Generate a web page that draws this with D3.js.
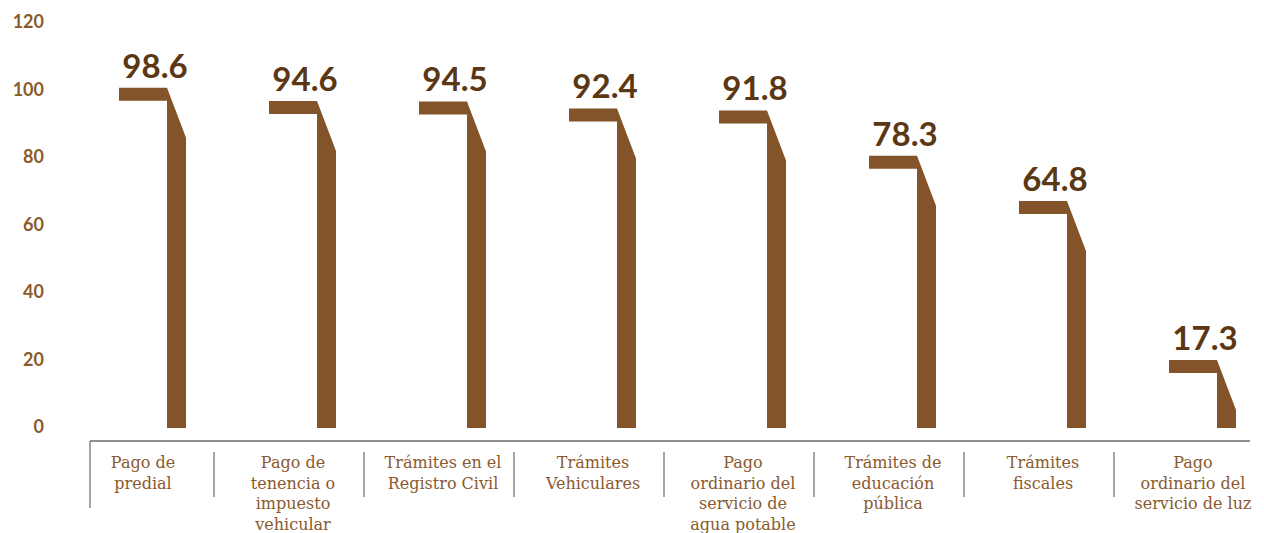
<!DOCTYPE html>
<html>
<head>
<meta charset="utf-8">
<script src="https://cdn.jsdelivr.net/npm/d3@7/dist/d3.min.js"></script>
<style>
  body { margin: 0; background: #fff; }
</style>
</head>
<body>
<div id="container"></div>
<script>
let w = 1264;
let h = 533;

// data
let categories = [
  "Pago de predial",
  "Pago de tenencia o impuesto vehicular",
  "Trámites en el Registro Civil",
  "Trámites Vehiculares",
  "Pago ordinario del servicio de agua potable",
  "Trámites de educación pública",
  "Trámites fiscales",
  "Pago ordinario del servicio de luz"
];
let values = [98.6, 94.6, 94.5, 92.4, 91.8, 78.3, 64.8, 17.3];
let categoryLines = [
  ["Pago de", "predial"],
  ["Pago de", "tenencia o", "impuesto", "vehicular"],
  ["Trámites en el", "Registro Civil"],
  ["Trámites", "Vehiculares"],
  ["Pago", "ordinario del", "servicio de", "agua potable"],
  ["Trámites de", "educación", "pública"],
  ["Trámites", "fiscales"],
  ["Pago", "ordinario del", "servicio de luz"]
];
let yTicks = [0, 20, 40, 60, 80, 100, 120];

let barColor = "#83532a";
let valueColor = "#5b3714";
let tickColor = "#8b5a2b";
let catColor = "#8a5a2e";

let viz = d3.select("#container")
  .append("svg")
  .attr("width", w)
  .attr("height", h);

let x = d3.scaleBand()
  .domain(categories)
  .range([68, 1268])
  .padding(0);

let y = d3.scaleLinear()
  .domain([0, 120])
  .range([418, 16]);

let axisY = 441;
let barBottom = y(0) + 10;

// y tick labels
viz.selectAll(".ytick").data(yTicks).enter()
  .append("text")
  .attr("class", "ytick")
  .attr("x", 44)
  .attr("y", d => y(d) + 6 + (120 - d) / 40)
  .attr("dy", "0.35em")
  .attr("text-anchor", "end")
  .attr("font-family", "Lato, 'Open Sans', sans-serif")
  .attr("font-weight", 700)
  .attr("font-size", 18)
  .attr("fill", tickColor)
  .text(d => d);

// hook shaped bars
function hookPath(d, i) {
  let cx = x(categories[i]) + x.bandwidth() / 2;
  let L = cx - 24;
  let C = L + 48;
  let R = L + 67;
  let t = y(d);
  let th = 13;
  let drop = 50;
  return d3.line()([
    [L, t], [C, t], [R, t + drop], [R, barBottom],
    [C, barBottom], [C, t + th], [L, t + th]
  ]) + "Z";
}

viz.selectAll(".bar").data(values).enter()
  .append("path")
  .attr("class", "bar")
  .attr("d", hookPath)
  .attr("fill", barColor);

// value labels
viz.selectAll(".val").data(values).enter()
  .append("text")
  .attr("class", "val")
  .attr("x", (d, i) => x(categories[i]) + x.bandwidth() / 2 + 12)
  .attr("y", d => y(d) - 10)
  .attr("text-anchor", "middle")
  .attr("font-family", "Lato, 'Open Sans', sans-serif")
  .attr("font-weight", 700)
  .attr("font-size", 33)
  .attr("fill", valueColor)
  .text(d => d.toFixed(1));

// axis line
viz.append("line")
  .attr("x1", 90).attr("x2", 1250)
  .attr("y1", axisY).attr("y2", axisY)
  .attr("stroke", "#6b6b6b")
  .attr("stroke-width", 1.5);

// left edge line
viz.append("line")
  .attr("x1", 90).attr("x2", 90)
  .attr("y1", axisY).attr("y2", 508)
  .attr("stroke", "#6b6b6b")
  .attr("stroke-width", 1.2);

// separators between categories
viz.selectAll(".sep").data(categories.slice(1)).enter()
  .append("line")
  .attr("class", "sep")
  .attr("x1", d => x(d) - 4).attr("x2", d => x(d) - 4)
  .attr("y1", 452).attr("y2", 497)
  .attr("stroke", "#6b6b6b")
  .attr("stroke-width", 1.2);

// category labels
let catGroups = viz.selectAll(".cat").data(categoryLines).enter()
  .append("text")
  .attr("class", "cat")
  .attr("text-anchor", "middle")
  .attr("font-family", "'DejaVu Serif', serif")
  .attr("font-size", 16)
  .attr("fill", catColor);

catGroups.selectAll("tspan").data((d, i) => d.map(s => ({s: s, i: i}))).enter()
  .append("tspan")
  .attr("x", d => x(categories[d.i]) + x.bandwidth() / 2)
  .attr("y", (d, j) => 468 + j * 20.5)
  .text(d => d.s);
</script>
</body>
</html>
